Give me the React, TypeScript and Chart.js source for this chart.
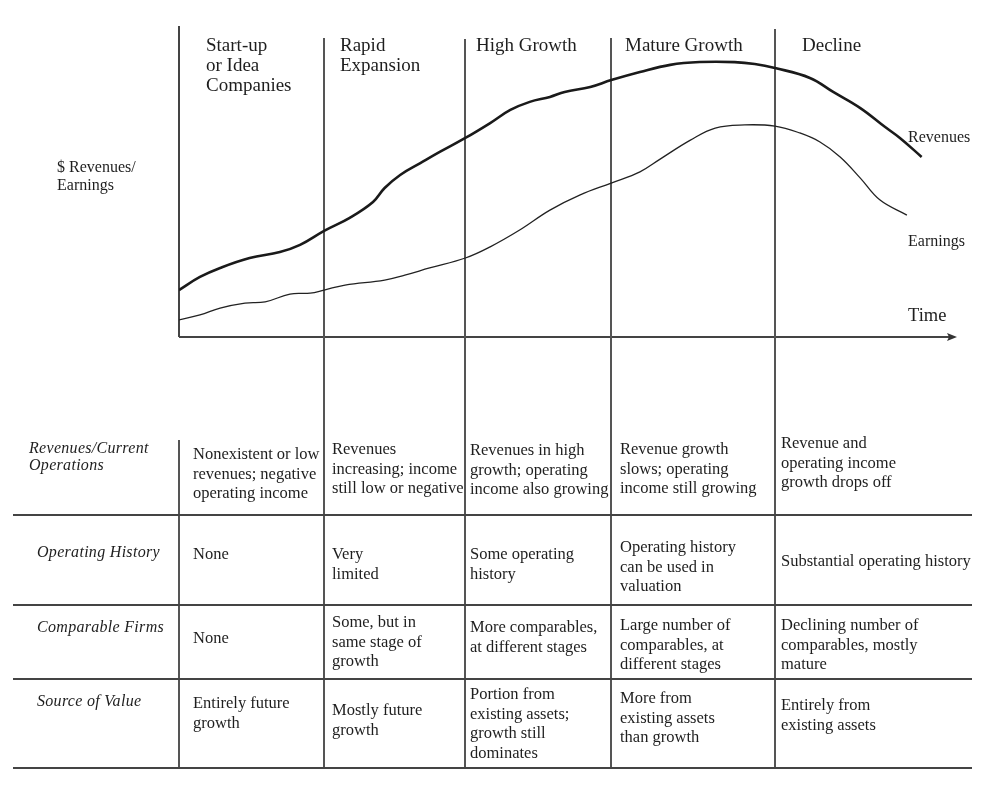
import React, { useEffect, useRef } from "react";
import { Chart, registerables } from "chart.js";

Chart.register(...registerables);

// Time axis in arbitrary units (0..100), value axis in arbitrary $ units (0..100)
const revenueTime = [0, 2.7, 5.3, 9.1, 13.0, 15.6, 18.7, 22.0, 25.0, 26.5, 28.5, 31.1, 33.6, 36.9, 40.1, 42.7, 45.2, 47.8, 49.7, 53.0, 55.7, 59.4, 63.3, 67.1, 71.6, 74.2, 76.8, 81.3, 84.3, 87.8, 91.0, 92.9, 95.7];
const revenueValues = [15.1, 19.3, 22.2, 25.4, 27.3, 29.6, 34.1, 38.3, 43.4, 47.9, 52.1, 55.9, 59.5, 64.0, 68.8, 73.0, 75.6, 77.2, 78.8, 80.4, 82.6, 85.2, 87.5, 88.4, 88.4, 87.8, 86.5, 83.3, 78.8, 73.6, 67.5, 64.0, 57.9];
const earningsTime = [0, 2.7, 5.3, 8.5, 11.1, 14.3, 16.9, 18.7, 21.4, 26.5, 29.1, 32.3, 36.9, 40.1, 43.9, 47.8, 51.7, 55.7, 59.4, 62.0, 65.9, 69.1, 72.9, 76.8, 80.0, 82.6, 85.2, 87.8, 90.3, 93.8];
const earningsValues = [5.5, 7.1, 9.3, 10.9, 11.3, 13.8, 14.1, 15.1, 16.7, 18.3, 19.9, 22.2, 25.4, 29.0, 34.4, 40.8, 45.7, 49.5, 53.1, 57.2, 63.3, 67.2, 68.2, 67.8, 65.6, 62.7, 57.9, 51.1, 44.1, 39.2];

const stageBoundaries = [18.7, 36.9, 55.7, 76.8];
const stageNames = [
  ["Start-up", "or Idea", "Companies"],
  ["Rapid", "Expansion"],
  ["High Growth"],
  ["Mature Growth"],
  ["Decline"],
];

const rowLabels = [
  ["Revenues/Current", "Operations"],
  ["Operating History"],
  ["Comparable Firms"],
  ["Source of Value"],
];

const rowCells = [
  [
    ["Nonexistent or low", "revenues; negative", "operating income"],
    ["Revenues", "increasing; income", "still low or negative"],
    ["Revenues in high", "growth; operating", "income also growing"],
    ["Revenue growth", "slows; operating", "income still growing"],
    ["Revenue and", "operating income", "growth drops off"],
  ],
  [
    ["None"],
    ["Very", "limited"],
    ["Some operating", "history"],
    ["Operating history", "can be used in", "valuation"],
    ["Substantial operating history"],
  ],
  [
    ["None"],
    ["Some, but in", "same stage of", "growth"],
    ["More comparables,", "at different stages"],
    ["Large number of", "comparables, at", "different stages"],
    ["Declining number of", "comparables, mostly", "mature"],
  ],
  [
    ["Entirely future", "growth"],
    ["Mostly future", "growth"],
    ["Portion from", "existing assets;", "growth still", "dominates"],
    ["More from", "existing assets", "than growth"],
    ["Entirely from", "existing assets"],
  ],
];

// layout (pixels)
const CELL_X = [193, 332, 470, 620, 781];
const LABEL_X = [29, 37, 37, 37];
const LABEL_BASE = [453, 557, 632, 706];
const CELL_BASE = [
  [459, 454, 455, 454, 448],
  [559, 559, 559, 552, 566],
  [643, 627, 632, 630, 630],
  [708, 715, 699, 703, 710],
];
const ROW_LINES = [515, 605, 679, 768];
const VLINE_TOP = [26, 38, 39, 38, 29];
const STAGE_X = [206, 340, 476, 625, 802];

const FONT = "'Liberation Serif', 'Times New Roman', serif";

const diagramPlugin = {
  id: "diagram",
  beforeDatasetsDraw(chart: any) {
    const { ctx, chartArea, scales } = chart;
    const x = scales.x;
    ctx.save();
    ctx.lineCap = "butt";
    // axes
    ctx.strokeStyle = "#444";
    ctx.lineWidth = 2;
    ctx.beginPath();
    ctx.moveTo(chartArea.left, VLINE_TOP[0]);
    ctx.lineTo(chartArea.left, chartArea.bottom);
    ctx.moveTo(chartArea.left, chartArea.bottom);
    ctx.lineTo(chartArea.right - 4, chartArea.bottom);
    ctx.stroke();
    ctx.fillStyle = "#333";
    ctx.beginPath();
    ctx.moveTo(chartArea.right + 2, chartArea.bottom);
    ctx.lineTo(chartArea.right - 8, chartArea.bottom - 4);
    ctx.lineTo(chartArea.right - 6, chartArea.bottom);
    ctx.lineTo(chartArea.right - 8, chartArea.bottom + 4);
    ctx.closePath();
    ctx.fill();
    // left line in table part
    ctx.strokeStyle = "#555";
    ctx.beginPath();
    ctx.moveTo(chartArea.left, 440);
    ctx.lineTo(chartArea.left, ROW_LINES[3]);
    ctx.stroke();
    // stage boundaries
    stageBoundaries.forEach((b, i) => {
      const px = Math.round(x.getPixelForValue(b));
      ctx.beginPath();
      ctx.moveTo(px, VLINE_TOP[i + 1]);
      ctx.lineTo(px, ROW_LINES[3]);
      ctx.stroke();
    });
    // table rows
    ctx.strokeStyle = "#444";
    ROW_LINES.forEach((y) => {
      ctx.beginPath();
      ctx.moveTo(13, y);
      ctx.lineTo(972, y);
      ctx.stroke();
    });
    ctx.restore();
  },
  afterDraw(chart: any) {
    const { ctx } = chart;
    ctx.save();
    ctx.fillStyle = "#1e1e1e";
    ctx.textBaseline = "alphabetic";
    ctx.textAlign = "left";
    // stage headers
    ctx.font = `19px ${FONT}`;
    stageNames.forEach((lines, i) => {
      lines.forEach((t, j) => ctx.fillText(t, STAGE_X[i], 51 + j * 20));
    });
    // axis labels
    ctx.font = `16px ${FONT}`;
    ctx.fillText("$ Revenues/", 57, 172);
    ctx.fillText("Earnings", 57, 190);
    ctx.fillText("Revenues", 908, 142);
    ctx.fillText("Earnings", 908, 246);
    ctx.font = `18.5px ${FONT}`;
    ctx.fillText("Time", 908, 321);
    // table row labels
    ctx.font = `italic 16px ${FONT}`;
    (ctx as any).letterSpacing = "0.3px";
    rowLabels.forEach((lines, r) => {
      lines.forEach((t, j) => ctx.fillText(t, LABEL_X[r], LABEL_BASE[r] + j * 16.5));
    });
    (ctx as any).letterSpacing = "0px";
    // table cells
    ctx.font = `16.5px ${FONT}`;
    rowCells.forEach((row, r) => {
      row.forEach((lines, c) => {
        lines.forEach((t, j) => ctx.fillText(t, CELL_X[c], CELL_BASE[r][c] + j * 19.7));
      });
    });
    ctx.restore();
  },
};

export default function App() {
  const ref = useRef<HTMLCanvasElement | null>(null);
  useEffect(() => {
    if (!ref.current) return;
    const chart = new Chart(ref.current, {
      type: "line",
      data: {
        datasets: [
          {
            label: "Revenues",
            data: revenueTime.map((t, i) => ({ x: t, y: revenueValues[i] })),
            borderColor: "#1a1a1a",
            borderWidth: 2.6,
            pointRadius: 0,
            tension: 0.4,
            fill: false,
          },
          {
            label: "Earnings",
            data: earningsTime.map((t, i) => ({ x: t, y: earningsValues[i] })),
            borderColor: "#222",
            borderWidth: 1.3,
            pointRadius: 0,
            tension: 0.4,
            fill: false,
          },
        ],
      },
      options: {
        animation: false,
        responsive: false,
        events: [],
        layout: { padding: { left: 179, right: 46, top: 26, bottom: 450 } },
        plugins: { legend: { display: false }, tooltip: { enabled: false }, title: { display: false } },
        scales: {
          x: { type: "linear", min: 0, max: 100, display: false },
          y: { type: "linear", min: 0, max: 100, display: false },
        },
      },
      plugins: [diagramPlugin],
    } as any);
    return () => chart.destroy();
  }, []);
  return (
    <div style={{ position: "absolute", left: 0, top: 0, width: 1001, height: 787, background: "#fff" }}>
      <canvas ref={ref} width={1001} height={787} style={{ width: 1001, height: 787, display: "block" }} />
    </div>
  );
}
